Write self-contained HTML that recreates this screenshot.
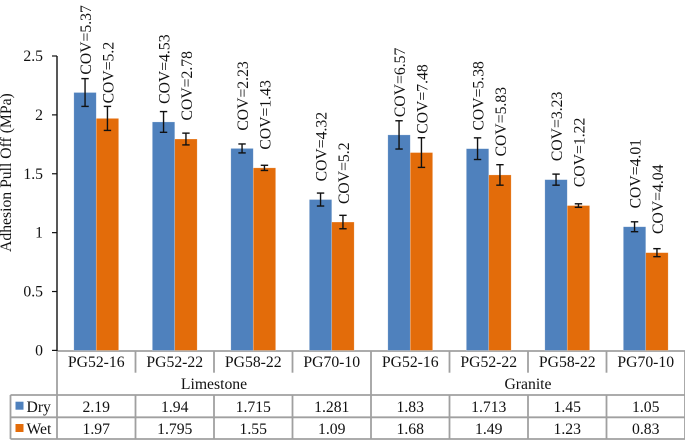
<!DOCTYPE html>
<html lang="en">
<head>
<meta charset="utf-8">
<title>Adhesion Pull Off chart</title>
<style>
html,body{margin:0;padding:0;background:#fff;width:685px;height:443px;overflow:hidden}
svg{display:block;font-family:"Liberation Serif",serif;fill:#111;filter:blur(0.35px)}
</style>
</head>
<body>
<svg id="chart" xmlns="http://www.w3.org/2000/svg" width="685" height="443" viewBox="0 0 685 443"></svg>
<script>
const categories = ['PG52-16','PG52-22','PG58-22','PG70-10','PG52-16','PG52-22','PG58-22','PG70-10'];
const groups = ['Limestone','Granite'];
const dryValues = [2.19,1.94,1.715,1.281,1.83,1.713,1.45,1.05];
const wetValues = [1.97,1.795,1.55,1.09,1.68,1.49,1.23,0.83];
const dryErrors = [0.118,0.088,0.038,0.055,0.12,0.092,0.047,0.042];
const wetErrors = [0.102,0.05,0.022,0.057,0.126,0.087,0.015,0.034];
const dryCov = ['5.37','4.53','2.23','4.32','6.57','5.38','3.23','4.01'];
const wetCov = ['5.2','2.78','1.43','5.2','7.48','5.83','1.22','4.04'];
const dryLabelGap = [4,7.7,13.3,11.7,3.7,7.3,13,13.4];
const wetLabelGap = [3,12.7,15.7,11.3,4,8.3,16.7,14.7];
const yTicks = [0,0.5,1,1.5,2,2.5];
const yTickLabels = ['0','0.5','1','1.5','2','2.5'];

const svg = document.getElementById('chart');
const NS = 'http://www.w3.org/2000/svg';
const plotLeft = 57, catWidth = 78.5, y0 = 350.4, yTop = 56, yMax = 2.5;
const barW = 22.4;
const GRID = '#a0a0a0', BLUE = '#4f81bd', ORANGE = '#e36c0a';
const FS = 15.7;
function xCat(i){ return plotLeft + catWidth * i; }
function yVal(v){ return y0 - (y0 - yTop) * v / yMax; }

function make(tag, attrs, text){
  const el = document.createElementNS(NS, tag);
  for (const k in attrs) el.setAttribute(k, attrs[k]);
  if (text !== undefined) el.textContent = text;
  svg.appendChild(el);
  return el;
}
function line(x1,y1,x2,y2,stroke,w){
  return make('line',{x1:x1,y1:y1,x2:x2,y2:y2,stroke:stroke,'stroke-width':w});
}
function label(x,y,t,size,anchor){
  return make('text',{x:x,y:y,'font-size':size||FS,'text-anchor':anchor||'middle'},t);
}

// table grid
const rowTop = 351, rowTick = 372.7, rowGroup = 395, rowDry = 417.3, rowWet = 439, tableLeft = 10.5, tableRight = xCat(8);
[rowDry, rowWet, rowGroup].forEach(function(y){
  const el = line(tableLeft,y,tableRight,y,GRID,1.8);
  
  
});
{
  const el = line(plotLeft,rowTop,tableRight,rowTop,GRID,1.8);
  
  
}
for (let i = 0; i <= 8; i++){
  const bottom = (i % 4 === 0) ? rowWet : rowTick;
  const a = line(xCat(i),rowTop,xCat(i),bottom,GRID,1.8);
  
  
  if (i % 4 !== 0){
    const b = line(xCat(i),rowGroup,xCat(i),rowWet,GRID,1.8);
    
    
  }
}
{
  const el = line(tableLeft,rowGroup,tableLeft,rowWet,GRID,1.8);
  
  
}

// bars, errors, COV labels
function drawSeries(values, errors, covs, gaps, color, offset, name){
  values.forEach(function(v,i){
    const x = xCat(i) + catWidth/2 + offset;
    const top = yVal(v);
    const bar = make('rect',{x:x,y:top,width:barW,height:y0-top,fill:color,stroke:'#fff','stroke-opacity':0.35,'stroke-width':0.6});
    
    
  });
  values.forEach(function(v,i){
    const cx = xCat(i) + catWidth/2 + offset + barW/2;
    const hi = yVal(v + errors[i]), lo = yVal(v - errors[i]);
    const e1 = line(cx,hi,cx,lo,'#111',1.4);
    
    
    const e2 = line(cx-3.7,hi,cx+3.7,hi,'#111',1.4);
    
    
    const e3 = line(cx-3.7,lo,cx+3.7,lo,'#111',1.4);
    
    
    const by = hi - gaps[i];
    const bx = cx + 6.2;
    const t = make('text',{x:bx,y:by,'font-size':FS,transform:'rotate(-90 '+bx+' '+by+')'},'COV='+covs[i]);
    
    
  });
}
drawSeries(dryValues,dryErrors,dryCov,dryLabelGap,BLUE,-barW,'dry');
drawSeries(wetValues,wetErrors,wetCov,wetLabelGap,ORANGE,0,'wet');

// y axis
{
  const el = line(plotLeft,yTop,plotLeft,y0+0.6,'#111',1.4);
  
  
}
yTicks.forEach(function(v,i){
  const y = yVal(v);
  const tk = line(52,y,plotLeft,y,'#111',1.2);
  
  
  const t = label(43,y+5,yTickLabels[i],FS,'end');
  
  
});
{
  const t = make('text',{x:11,y:172.6,'font-size':FS,'text-anchor':'middle',transform:'rotate(-90 11 172.6)'},'Adhesion Pull Off (MPa)');
  
  
}

// table text
categories.forEach(function(c,i){
  const cx = xCat(i)+catWidth/2;
  const t = label(cx,367,c);
  
  
  const d = label(cx,412,String(dryValues[i]));
  
  
  const w = label(cx,434,String(wetValues[i]));
  
  
});
groups.forEach(function(g,i){
  const t = label(xCat(i*4)+catWidth*2,389,g);
  
  
});

// legend keys
{
  const k1 = make('rect',{x:15.5,y:401.7,width:8,height:8,fill:BLUE});
  
  
  const k2 = make('rect',{x:15.5,y:424,width:8,height:8,fill:ORANGE});
  
  
  const t1 = label(26.5,412,'Dry',FS,'start');
  
  
  const t2 = label(26.5,434,'Wet',FS,'start');
  
  
}
</script>
</body>
</html>
